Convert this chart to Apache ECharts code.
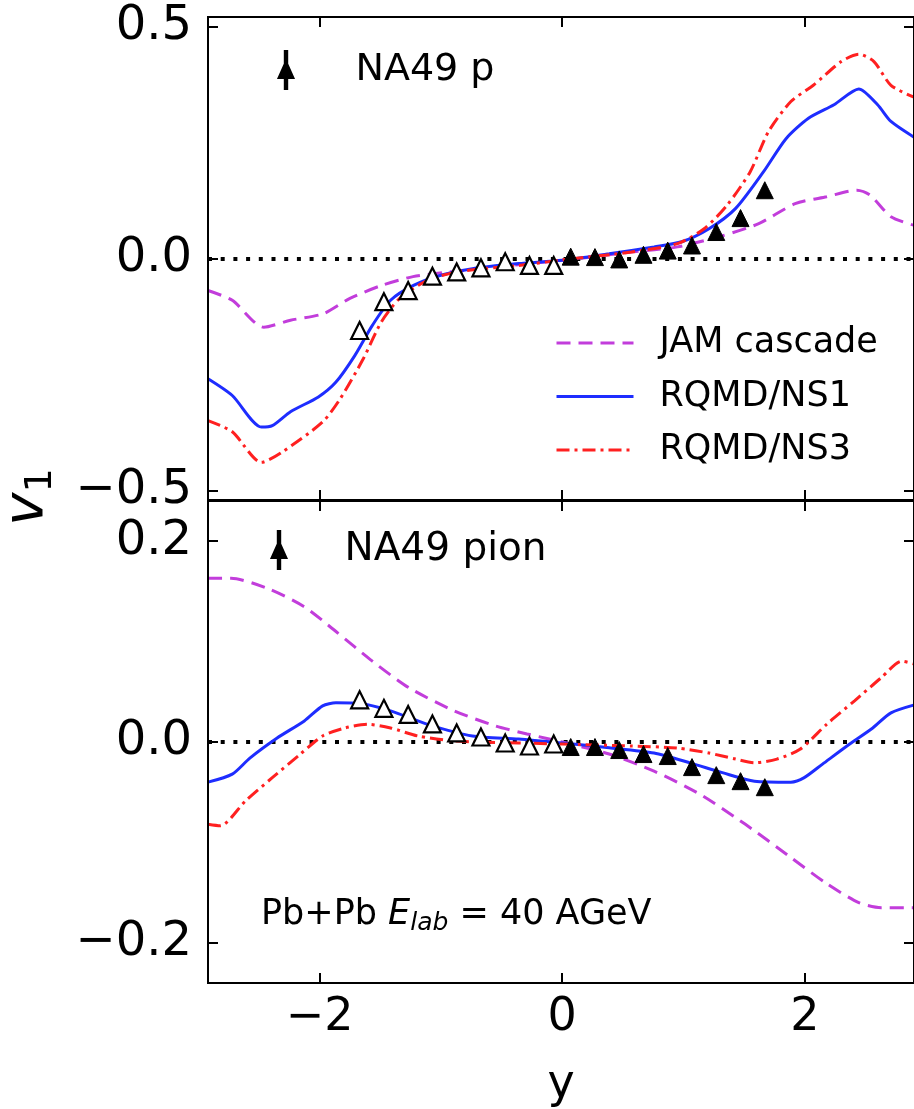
<!DOCTYPE html>
<html><head><meta charset="utf-8">
<script src="https://cdn.jsdelivr.net/npm/echarts@6/dist/echarts.min.js"></script>
<style>html,body{margin:0;padding:0;background:#fff}#c{width:914px;height:1109px}</style>
</head><body><div id="c"></div>
<script>
// ---------- data ----------
// top panel: protons
const jamTopX = [-2.92,-2.72,-2.46,-2.24,-1.97,-1.75,-1.49,-1.23,-0.89,-0.55,0.0,0.57,0.95,1.32,1.62,1.92,2.18,2.43,2.54,2.71,2.92];
const jamTopY = [-0.069,-0.090,-0.148,-0.133,-0.119,-0.086,-0.058,-0.039,-0.028,-0.018,-0.004,0.014,0.025,0.049,0.075,0.118,0.133,0.147,0.136,0.090,0.070];
const ns1TopX = [-2.92,-2.72,-2.48,-2.39,-2.24,-2.01,-1.865,-1.71,-1.565,-1.415,-1.226,-1.0,-0.74,-0.36,0.0,0.387,0.757,0.985,1.21,1.43,1.66,1.845,2.03,2.24,2.445,2.60,2.71,2.92];
const ns1TopY = [-0.259,-0.295,-0.363,-0.360,-0.330,-0.298,-0.266,-0.209,-0.144,-0.090,-0.058,-0.036,-0.022,-0.011,-0.004,0.010,0.025,0.036,0.064,0.108,0.187,0.258,0.302,0.331,0.365,0.331,0.295,0.258];
const ns3TopX = [-2.92,-2.72,-2.48,-2.31,-1.975,-1.83,-1.64,-1.49,-1.34,-1.11,-0.85,-0.36,0.0,0.57,0.95,1.17,1.36,1.55,1.70,1.885,2.07,2.30,2.445,2.57,2.71,2.92];
const ns3TopY = [-0.349,-0.373,-0.439,-0.417,-0.352,-0.302,-0.216,-0.136,-0.086,-0.047,-0.028,-0.015,-0.003,0.014,0.032,0.064,0.115,0.187,0.273,0.338,0.373,0.424,0.440,0.424,0.373,0.345];
const pFilledX = [0.07,0.27,0.47,0.67,0.87,1.07,1.27,1.47,1.67];
const pFilledY = [0.004,0.003,-0.002,0.008,0.017,0.028,0.057,0.087,0.147];
const pOpenX = [-1.67,-1.47,-1.27,-1.07,-0.87,-0.67,-0.47,-0.27,-0.07];
const pOpenY = [-0.155,-0.093,-0.069,-0.038,-0.029,-0.020,-0.007,-0.015,-0.015];
// bottom panel: pions
const jamBotX = [-2.92,-2.73,-2.43,-2.13,-1.865,-1.565,-1.263,-0.89,-0.55,-0.29,0.0,0.387,0.757,1.135,1.51,1.885,2.18,2.445,2.63,2.92];
const jamBotY = [0.163,0.163,0.153,0.135,0.110,0.0805,0.054,0.031,0.016,0.008,0.0,-0.012,-0.029,-0.052,-0.082,-0.115,-0.141,-0.160,-0.165,-0.165];
const ns1BotX = [-2.92,-2.72,-2.575,-2.35,-2.126,-1.975,-1.865,-1.68,-1.415,-1.11,-0.74,-0.36,0.0,0.387,0.757,1.06,1.32,1.585,1.885,1.995,2.146,2.37,2.56,2.71,2.92];
const ns1BotY = [-0.040,-0.032,-0.016,0.004,0.021,0.036,0.039,0.0385,0.031,0.0176,0.006,0.003,-0.001,-0.0057,-0.011,-0.021,-0.0305,-0.039,-0.040,-0.0355,-0.022,-0.002,0.014,0.029,0.0375];
const ns3BotX = [-2.92,-2.82,-2.61,-2.39,-2.16,-1.975,-1.79,-1.6,-1.415,-1.19,-0.89,-0.36,0.0,0.57,0.95,1.21,1.43,1.585,1.77,1.96,2.18,2.41,2.63,2.80,2.92];
const ns3BotY = [-0.082,-0.0835,-0.0586,-0.0355,-0.0122,0.006,0.014,0.0176,0.014,0.006,0.001,-0.001,-0.002,-0.004,-0.006,-0.011,-0.017,-0.0206,-0.017,-0.0073,0.0176,0.041,0.064,0.0805,0.077];
const piFilledX = [0.07,0.27,0.47,0.67,0.87,1.07,1.27,1.47,1.67];
const piFilledY = [-0.005,-0.005,-0.008,-0.012,-0.014,-0.025,-0.033,-0.039,-0.045];
const piOpenX = [-1.67,-1.47,-1.27,-1.07,-0.87,-0.67,-0.47,-0.27,-0.07];
const piOpenY = [0.042,0.0335,0.0275,0.018,0.009,0.005,-0.001,-0.004,-0.002];
// ticks
const xTicks = [-2, 0, 2];
const yTicksTop = [-0.5, 0, 0.5];
const yTicksBot = [-0.2, 0, 0.2];
const seriesNames = ['JAM cascade', 'RQMD/NS1', 'RQMD/NS3'];

// ---------- chart ----------
const FONT = 'DejaVu Sans';
const pairs = (xs, ys) => xs.map((x, i) => [x, ys[i]]);
const minus = s => s.replace('-', '\u2212');
const fmt1 = v => minus(Number(v).toFixed(1));
const fmtX = v => minus(String(Math.round(v)));
const C_JAM = '#c23ddb', C_NS1 = '#1e2dff', C_NS3 = '#ff2020';
const tick = (vals) => ({show: true, inside: true, length: 10, customValues: vals, lineStyle: {color: '#000', width: 2}});

function xAxis(grid, pos, labels) {
  const a = {type: 'value', gridIndex: grid, position: pos, min: -2.92, max: 2.9,
    axisLine: {show: false, onZero: false}, splitLine: {show: false}, axisTick: tick(xTicks),
    axisLabel: {show: labels, customValues: xTicks, formatter: fmtX, color: '#000', fontFamily: FONT, fontSize: 46, margin: 12}};
  if (labels) {
    a.name = 'y'; a.nameLocation = 'middle'; a.nameGap = 79;
    a.nameTextStyle = {fontFamily: FONT, fontSize: 46, color: '#000'};
  }
  return a;
}
function yAxis(grid, pos, lim, ticks, labels) {
  return {type: 'value', gridIndex: grid, position: pos, min: -lim, max: lim,
    axisLine: {show: false, onZero: false}, splitLine: {show: false}, axisTick: tick(ticks),
    axisLabel: {show: labels, customValues: ticks, formatter: fmt1, color: '#000', fontFamily: FONT, fontSize: 48, margin: 16}};
}
function curve(name, xs, ys, xi, color, type, extra) {
  return Object.assign({type: 'line', name, data: pairs(xs, ys), xAxisIndex: xi, yAxisIndex: xi,
    symbol: 'none', smooth: 0.25, color, lineStyle: {color, width: 3, type}, z: 3, silent: true}, extra || {});
}
const zeroLine = {silent: true, symbol: 'none', label: {show: false},
  lineStyle: {color: '#000', width: 4, type: [4, 8.7]}, data: [{yAxis: 0}], z: 1};
function points(name, xs, ys, xi, open) {
  return {type: 'scatter', name, data: pairs(xs, ys), xAxisIndex: xi, yAxisIndex: xi,
    symbol: 'triangle', symbolSize: 17, z: 5, silent: true,
    itemStyle: open ? {color: '#fff', borderColor: '#000', borderWidth: 2.2, opacity: 1}
                    : {color: '#000', borderColor: '#000', borderWidth: 1, opacity: 1}};
}
const errIcon = 'path://M6.3,0 L8.7,0 L8.7,13 L15,27 L8.7,27 L8.7,38 L6.3,38 L6.3,27 L0,27 L6.3,13 Z';

const option = {
  animation: false,
  backgroundColor: '#fff',
  textStyle: {fontFamily: FONT},
  grid: [
    {left: 208, top: 17, width: 708, height: 483, show: true, borderColor: '#000', borderWidth: 2, backgroundColor: 'transparent', z: 10},
    {left: 208, top: 501, width: 708, height: 482, show: true, borderColor: '#000', borderWidth: 2, backgroundColor: 'transparent', z: 10}
  ],
  xAxis: [xAxis(0, 'bottom', false), xAxis(0, 'top', false), xAxis(1, 'bottom', true), xAxis(1, 'top', false)],
  yAxis: [yAxis(0, 'left', 0.52, yTicksTop, true), yAxis(0, 'right', 0.52, yTicksTop, false),
          yAxis(1, 'left', 0.24, yTicksBot, true), yAxis(1, 'right', 0.24, yTicksBot, false)],
  legend: [
    {data: seriesNames, orient: 'vertical', left: 555, top: 323, padding: 0, itemWidth: 77, itemHeight: 2, itemGap: 13.5,
     selectedMode: false, itemStyle: {color: 'transparent', borderColor: 'transparent', borderWidth: 0},
     lineStyle: {width: 3},
     textStyle: {fontFamily: FONT, fontSize: 35, color: '#000', lineHeight: 40, padding: [0, 0, 0, 21]}},
    {data: [{name: 'NA49 p', icon: errIcon}], left: 277.5, top: 50, padding: 0, itemWidth: 15, itemHeight: 38,
     selectedMode: false, textStyle: {fontFamily: FONT, fontSize: 38, color: '#000', padding: [0, 0, 0, 57]}},
    {data: [{name: 'NA49 pion', icon: errIcon}], left: 270.5, top: 530, padding: 0, itemWidth: 15, itemHeight: 38,
     selectedMode: false, textStyle: {fontFamily: FONT, fontSize: 39, color: '#000', padding: [0, 0, 0, 53]}}
  ],
  graphic: [
    {type: 'text', x: 27, y: 497, rotation: Math.PI / 2, z: 20,
     style: {text: '{v|v}{s|1}', align: 'center', verticalAlign: 'middle', fill: '#000',
       rich: {v: {fontFamily: FONT, fontSize: 56, fontStyle: 'italic', lineHeight: 70, fill: '#000'},
              s: {fontFamily: FONT, fontSize: 38, lineHeight: 38, verticalAlign: 'top', padding: [30, 0, 0, 0], fill: '#000'}}}},
    {type: 'text', x: 261, y: 890, z: 20,
     style: {text: '{n|Pb+Pb }{e|E}{s|lab}{n| = 40 AGeV}', align: 'left', verticalAlign: 'top', fill: '#000',
       rich: {n: {fontFamily: FONT, fontSize: 35, lineHeight: 50, fill: '#000'},
              e: {fontFamily: FONT, fontSize: 35, fontStyle: 'italic', lineHeight: 50, fill: '#000'},
              s: {fontFamily: FONT, fontSize: 25, fontStyle: 'italic', lineHeight: 25, verticalAlign: 'top', padding: [21, 0, 0, 0], fill: '#000'}}}}
  ],
  series: [
    curve('JAM cascade', jamTopX, jamTopY, 0, C_JAM, [14, 8], {markLine: zeroLine}),
    curve('RQMD/NS1', ns1TopX, ns1TopY, 0, C_NS1, 'solid'),
    curve('RQMD/NS3', ns3TopX, ns3TopY, 0, C_NS3, [13, 5, 3, 5]),
    points('NA49 p', pFilledX, pFilledY, 0, false),
    points('NA49 p reflected', pOpenX, pOpenY, 0, true),
    curve('JAM cascade', jamBotX, jamBotY, 2, C_JAM, [14, 8], {markLine: zeroLine}),
    curve('RQMD/NS1', ns1BotX, ns1BotY, 2, C_NS1, 'solid'),
    curve('RQMD/NS3', ns3BotX, ns3BotY, 2, C_NS3, [13, 5, 3, 5]),
    points('NA49 pion', piFilledX, piFilledY, 2, false),
    points('NA49 pion reflected', piOpenX, piOpenY, 2, true)
  ]
};
const chart = echarts.init(document.getElementById('c'));
chart.setOption(option);
</script></body></html>
